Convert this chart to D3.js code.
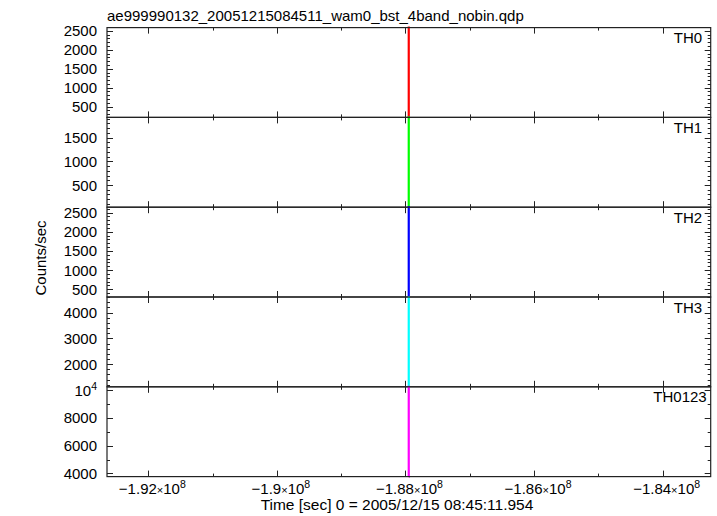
<!DOCTYPE html>
<html>
<head>
<meta charset="utf-8">
<script src="https://cdn.jsdelivr.net/npm/d3@7"></script>
<style>
  html, body { margin: 0; padding: 0; background: #fff; }
  svg { display: block; font-family: "Liberation Sans", Arial, Helvetica, sans-serif; }
</style>
</head>
<body>
<svg id="chart" width="717" height="516"></svg>
<script>
// ---------------- data ----------------
const title = "ae999990132_20051215084511_wam0_bst_4band_nobin.qdp";
const xLabel = "Time [sec] 0 = 2005/12/15 08:45:11.954";
const yLabel = "Counts/sec";
const panelNames = ["TH0", "TH1", "TH2", "TH3", "TH0123"];
const panelColors = ["#ff0000", "#00ff00", "#0000ff", "#00ffff", "#ff00ff"];
const xDomain = [-1.92643e8, -1.83252e8];
const xMajorTicks = [-1.92e8, -1.90e8, -1.88e8, -1.86e8, -1.84e8];
const xTickMantissa = ["\u22121.92", "\u22121.9", "\u22121.88", "\u22121.86", "\u22121.84"];
const xMinorStep = 1e6;
// burst times (s), all within a fraction of a pixel
const burstTimes = [-187949040, -187949030, -187949020, -187949010, -187949000, -187948990, -187948980];
const th0 = [215, 260, 900, 2588, 1700, 640, 300];
const th1 = [32, 80, 700, 1926, 1100, 300, 60];
const th2 = [298, 350, 1300, 2641, 1600, 700, 320];
const th3 = [1120, 1200, 2500, 4605, 3300, 1800, 1150];
const th0123 = [3770, 3900, 6500, 10237, 8000, 5200, 3850];
const seriesValues = [th0, th1, th2, th3, th0123];
const yMajorTicks = [
  [500, 1000, 1500, 2000, 2500],
  [500, 1000, 1500],
  [500, 1000, 1500, 2000, 2500],
  [2000, 3000, 4000],
  [4000, 6000, 8000, 10000]
];
const yTickLabels = [
  ["500", "1000", "1500", "2000", "2500"],
  ["500", "1000", "1500"],
  ["500", "1000", "1500", "2000", "2500"],
  ["2000", "3000", "4000"],
  ["4000", "6000", "8000", "10^4"]
];
const yMinorSteps = [100, 100, 100, 200, 1000];

// ---------------- layout ----------------
const mLeft = 107, mRight = 710.7, mTop = 27.6, mBottom = 476.6;
const nP = panelNames.length;
const ph = (mBottom - mTop) / nP;
const fs = 15;
const axisColor = "#222";

const svg = d3.select("#chart");
const x = d3.scaleLinear().domain(xDomain).range([mLeft, mRight]);

svg.append("text").attr("x", mLeft).attr("y", 21).attr("font-size", fs).attr("fill", "#000").text(title);

const xMinor = d3.range(Math.ceil(xDomain[0] / xMinorStep) * xMinorStep, xDomain[1], xMinorStep);

panelNames.forEach((name, i) => {
  const y0 = mTop + i * ph, y1 = y0 + ph;
  const vals = seriesValues[i];
  const y = d3.scaleLinear().domain(d3.extent(vals)).range([y1, y0]);
  const g = svg.append("g");

  // data line
  const pts = burstTimes.map((t, k) => [t, vals[k]]);
  g.append("path")
    .attr("d", d3.line().x(d => x(d[0])).y(d => y(d[1])).curve(d3.curveStepAfter)(pts))
    .attr("fill", "none").attr("stroke", panelColors[i]).attr("stroke-width", 2.2);

  // y ticks (left and right)
  const dom = y.domain();
  const minor = d3.range(Math.ceil(dom[0] / yMinorSteps[i]) * yMinorSteps[i], dom[1] + 1e-9, yMinorSteps[i]);
  minor.forEach(v => {
    const isMajor = yMajorTicks[i].includes(v);
    const len = isMajor ? 6 : 3;
    const yy = Math.round(y(v)) + 0.5;
    g.append("line").attr("x1", mLeft).attr("x2", mLeft + len).attr("y1", yy).attr("y2", yy).attr("stroke", axisColor);
    g.append("line").attr("x1", mRight).attr("x2", mRight - len).attr("y1", yy).attr("y2", yy).attr("stroke", axisColor);
  });
  yMajorTicks[i].forEach((v, k) => {
    const lab = yTickLabels[i][k];
    const t = g.append("text").attr("x", 97).attr("y", y(v) + 5.5).attr("text-anchor", "end")
      .attr("font-size", fs).attr("fill", "#000");
    if (lab.includes("^")) {
      const [b, e] = lab.split("^");
      t.append("tspan").text(b);
      t.append("tspan").attr("dy", -6).attr("font-size", 10.5).text(e);
    } else t.text(lab);
  });

  // x ticks top & bottom of panel
  xMinor.forEach(v => {
    const isMajor = xMajorTicks.some(m => Math.abs(m - v) < 1);
    const len = isMajor ? 6 : 3;
    const xx = Math.round(x(v)) + 0.5;
    g.append("line").attr("x1", xx).attr("x2", xx).attr("y1", y0).attr("y2", y0 + len).attr("stroke", axisColor);
    g.append("line").attr("x1", xx).attr("x2", xx).attr("y1", y1).attr("y2", y1 - len).attr("stroke", axisColor);
  });

  // frame
  g.append("rect").attr("x", mLeft).attr("y", y0).attr("width", mRight - mLeft).attr("height", ph)
    .attr("fill", "none").attr("stroke", axisColor).attr("stroke-width", 1.2);

  // panel label
  g.append("text").attr("x", name.length > 3 ? mRight - 4 : mRight - 8.5).attr("y", y0 + 15.5)
    .attr("text-anchor", "end").attr("font-size", fs).attr("fill", "#000").text(name);
});

// x tick labels
xMajorTicks.forEach((v, k) => {
  const t = svg.append("text").attr("x", x(v) + 4).attr("y", 494).attr("text-anchor", "middle")
    .attr("font-size", fs).attr("fill", "#000");
  t.append("tspan").text(xTickMantissa[k]);
  t.append("tspan").attr("font-size", 11).text("\u00d7");
  t.append("tspan").text("10");
  t.append("tspan").attr("dy", -6).attr("font-size", 10.5).text("8");
});

svg.append("text").attr("x", 397).attr("y", 510).attr("text-anchor", "middle")
  .attr("font-size", 15.5).attr("fill", "#000").text(xLabel);

svg.append("text").attr("transform", "translate(46,258) rotate(-90)").attr("text-anchor", "middle")
  .attr("font-size", fs).attr("fill", "#000").text(yLabel);
</script>
</body>
</html>
